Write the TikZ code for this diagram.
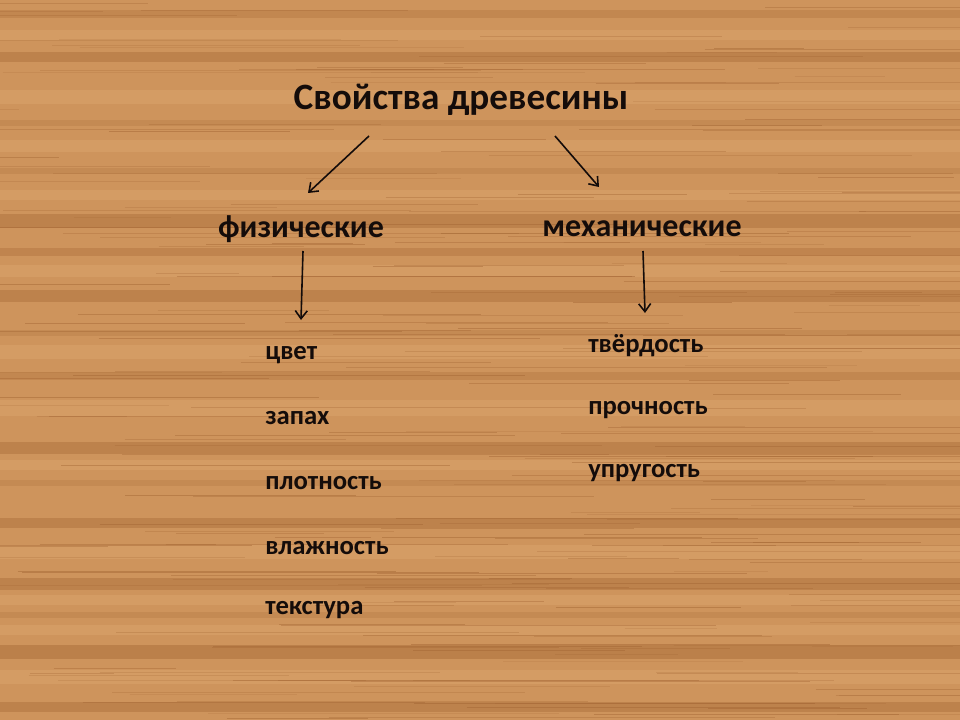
\documentclass[tikz,border=0pt]{standalone}
\usepackage{fontspec}
\setmainfont{Carlito}
\usetikzlibrary{arrows.meta}
\definecolor{woodbase}{RGB}{206,148,92}
\definecolor{wooddark}{RGB}{160,98,48}
\definecolor{woodlight}{RGB}{228,176,120}
\definecolor{ink}{RGB}{20,12,10}
\tikzset{
  title/.style={font=\bfseries\fontsize{27.9}{32}\selectfont, text=ink, inner sep=0pt},
  cat/.style={font=\bfseries\fontsize{24}{28}\selectfont, text=ink, inner sep=0pt},
  item/.style={font=\bfseries\fontsize{20}{24}\selectfont, text=ink, inner sep=0pt, anchor=west},
  link/.style={draw=ink, line width=1.2pt, -{Straight Barb[length=6pt,width=9pt]}},
}
\begin{document}
\begin{tikzpicture}[x=0.75pt,y=-0.75pt]
\useasboundingbox (0,0) rectangle (960,720);
\fill[woodbase] (0,0) rectangle (960,720);
% broad grain bands
\foreach \y/\h/\o in {10/8/0.25, 52/10/0.35, 120/6/0.2, 168/6/0.2, 214/14/0.35, 248/8/0.3, 290/12/0.35, 330/6/0.2, 372/8/0.25, 442/12/0.35, 480/6/0.2, 518/10/0.35, 578/12/0.35, 612/6/0.2, 645/14/0.4, 702/10/0.35}
  \fill[wooddark, opacity=\o] (0,\y) rectangle (960,\y+\h);
\foreach \y/\h in {30/10, 90/14, 140/12, 190/10, 265/12, 345/14, 400/16, 460/10, 545/14, 595/10, 625/10, 670/14}
  \fill[woodlight, opacity=0.3] (0,\y) rectangle (960,\y+\h);
% fine grain lines
\pgfmathsetseed{4711}
\foreach \i in {1,...,240}{
  \pgfmathsetmacro{\yy}{rnd*720}
  \pgfmathsetmacro{\xa}{rnd*960-100}
  \pgfmathsetmacro{\ll}{80+rnd*420}
  \pgfmathsetmacro{\op}{0.15+rnd*0.3}
  \draw[wooddark, line width=0.6pt, opacity=\op] (\xa,\yy) -- (\xa+\ll,\yy);
}
% nodes
\node[title] (root) at (461,100) {Свойства древесины};
\node[cat] (phys) at (301,229) {физические};
\node[cat] (mech) at (642,229) {механические};
\coordinate (r1) at (369,136);
\coordinate (r2) at (555,136);
\coordinate (p1) at (308,193);
\coordinate (m1) at (599,187);
\coordinate (ps) at (303,251);
\coordinate (pe) at (301,320);
\coordinate (ms) at (643,251);
\coordinate (me) at (645,313);
\draw[link] (r1) -- (p1);
\draw[link] (r2) -- (m1);
\draw[link] (ps) -- (pe);
\draw[link] (ms) -- (me);
% left list
\node[item] (c1) at (265,355) {цвет};
\node[item] (c2) at (265,418) {запах};
\node[item] (c3) at (265,483) {плотность};
\node[item] (c4) at (265,548) {влажность};
\node[item] (c5) at (265,610) {текстура};
% right list
\node[item] (d1) at (588,346) {твёрдость};
\node[item] (d2) at (588,410) {прочность};
\node[item] (d3) at (588,473) {упругость};
\end{tikzpicture}
\end{document}
